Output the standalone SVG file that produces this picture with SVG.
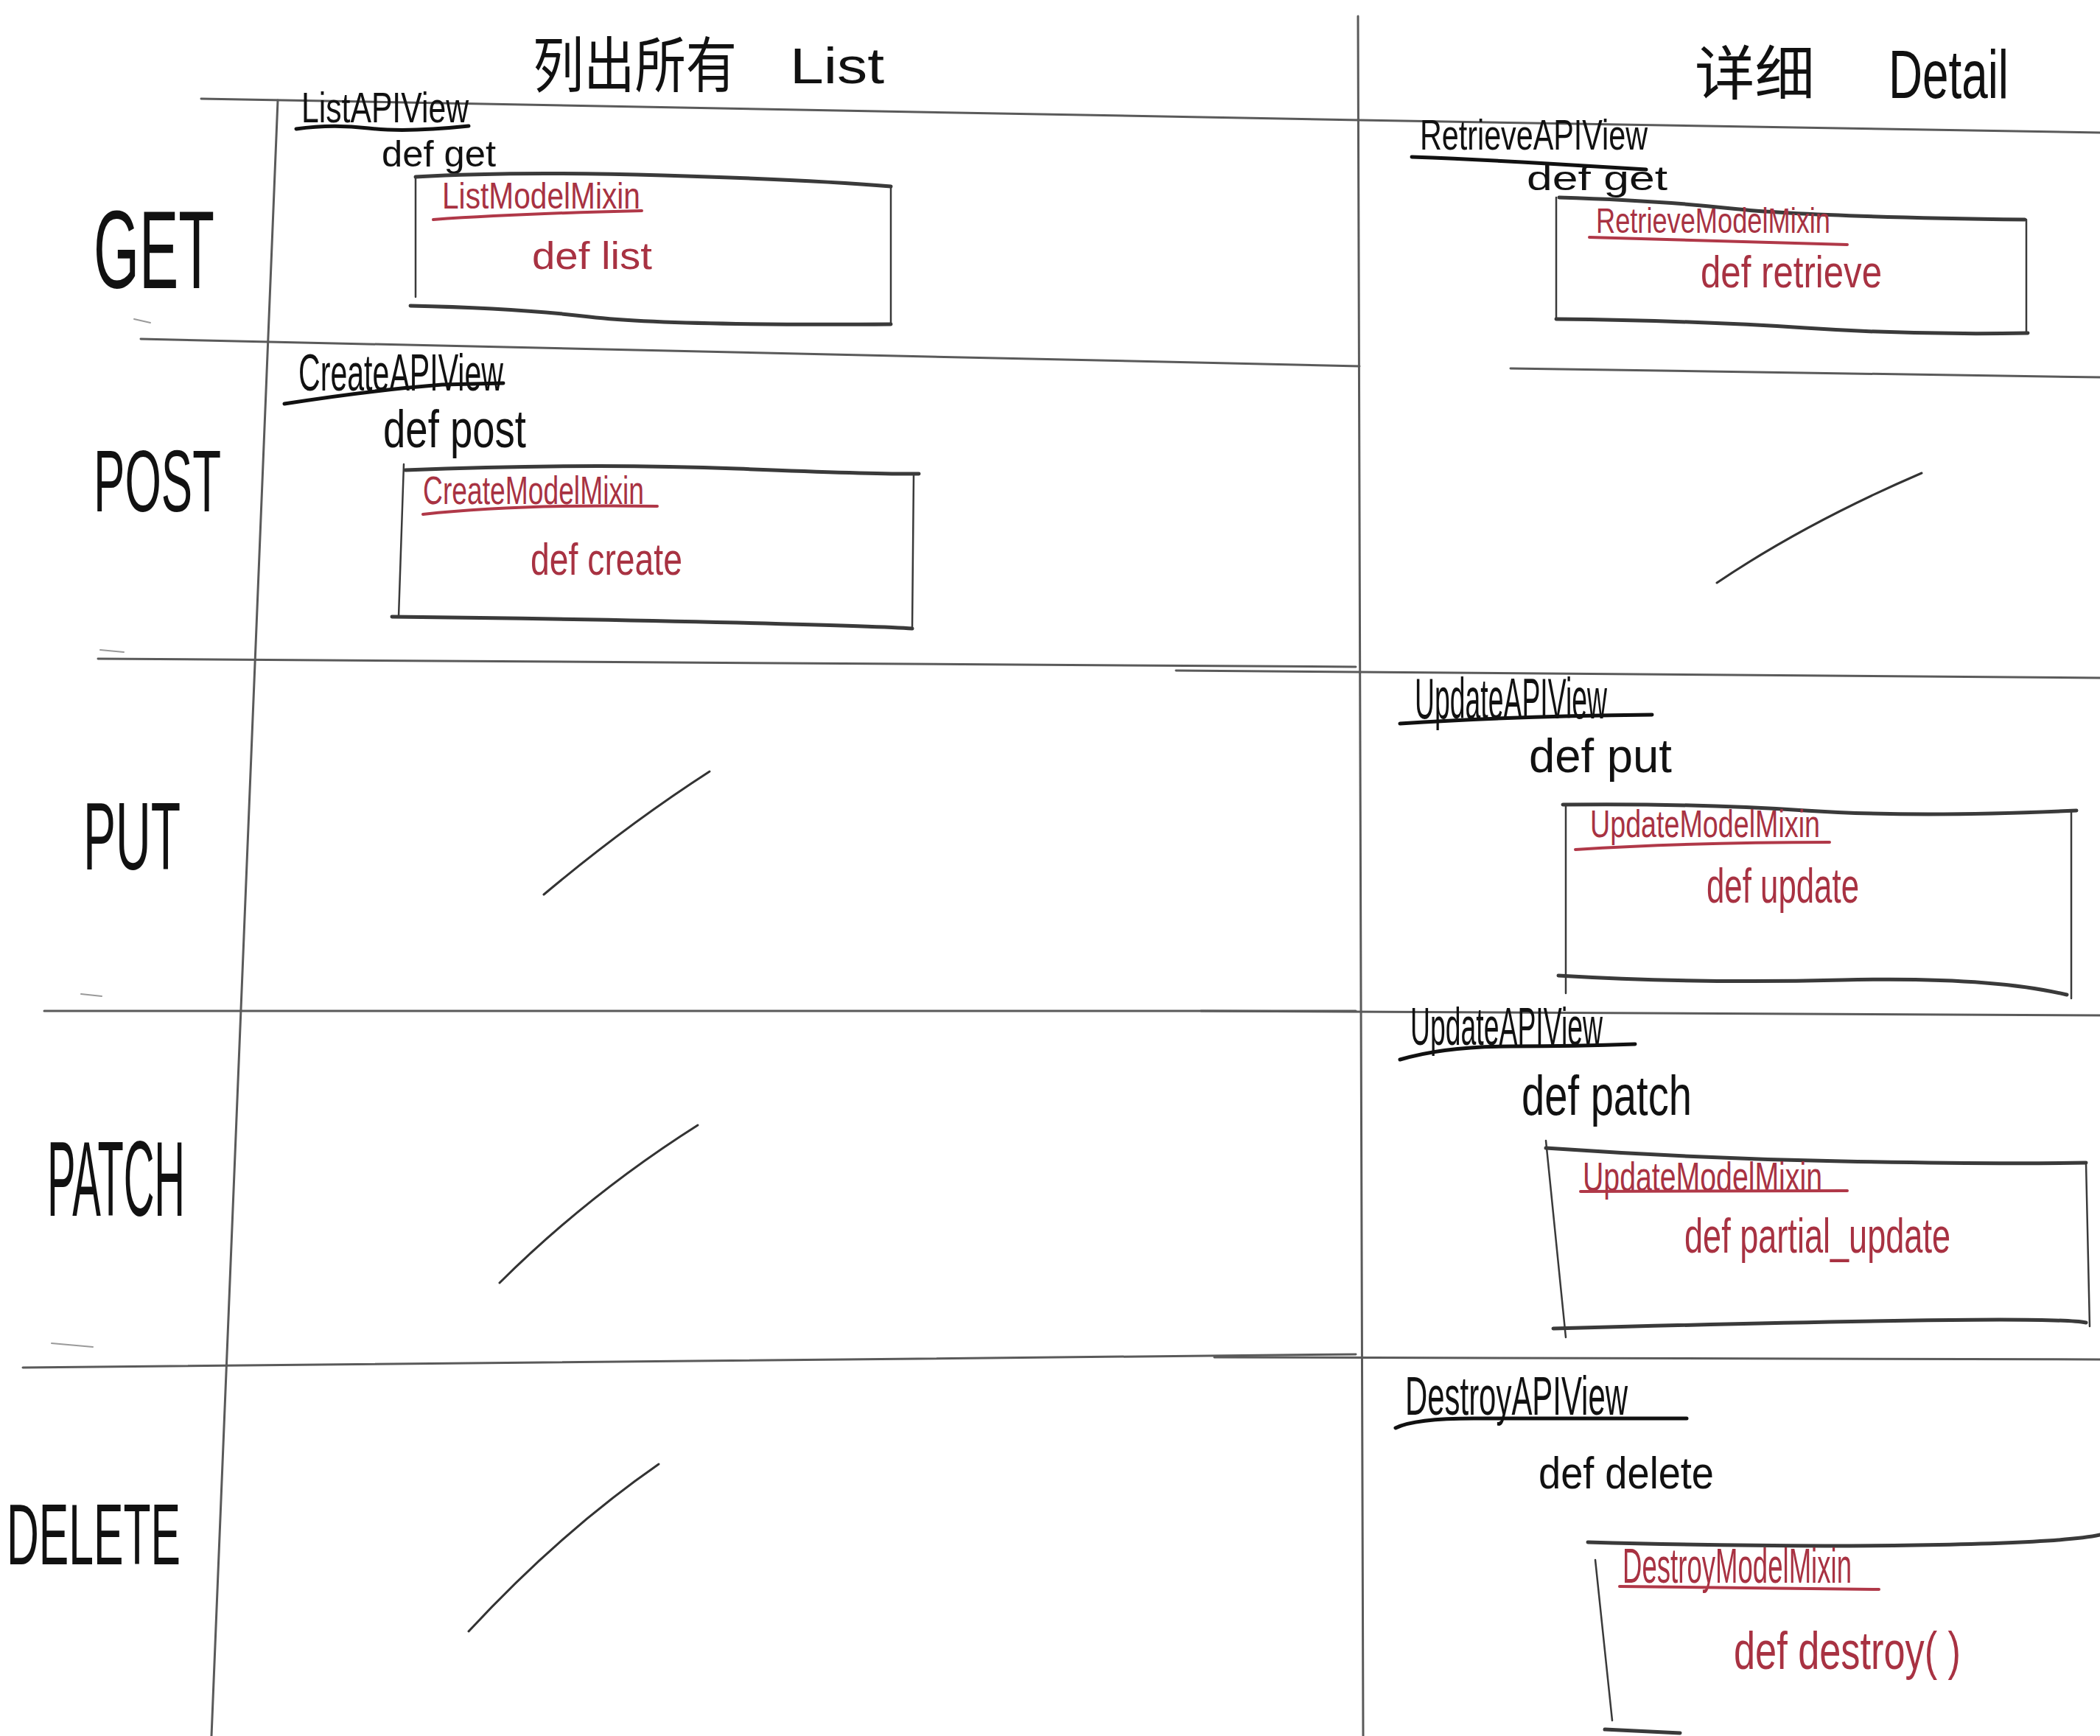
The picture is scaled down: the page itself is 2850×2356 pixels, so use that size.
<svg xmlns="http://www.w3.org/2000/svg" width="2850" height="2356" viewBox="0 0 2850 2356">
<style>
.bg{fill:#ffffff}
.grid{stroke:#5a5a5a;stroke-width:3;fill:none;stroke-linecap:round}
.faint{stroke:#9a9a9a;stroke-width:2;fill:none;stroke-linecap:round}
.box{stroke:#3a3a3a;stroke-width:5;fill:none;stroke-linecap:round;stroke-linejoin:round}
.side{stroke:#3a3a3a;stroke-width:2.5;fill:none;stroke-linecap:round}
.ul{stroke:#111;stroke-width:5;fill:none;stroke-linecap:round}
.ulr{stroke:#b03848;stroke-width:4;fill:none;stroke-linecap:round}
.slash{stroke:#333;stroke-width:3;fill:none;stroke-linecap:round}
.ink{font-family:"Liberation Sans","Noto Sans CJK SC",sans-serif;fill:#111}
.red{font-family:"Liberation Sans",sans-serif;fill:#a83242}
.cjk{font-family:"Noto Sans CJK SC","Liberation Sans",sans-serif;fill:#111}
</style>
<rect class="bg" x="0" y="0" width="2850" height="2356"/>

<g id="grid">
  <path class="grid" d="M273,134 L1845,163 L2850,180"/>
  <path class="grid" d="M191,460 L1845,497"/>
  <path class="grid" d="M2050,500 L2850,512"/>
  <path class="grid" d="M133,894 L1840,905"/>
  <path class="grid" d="M1596,910 L2850,920"/>
  <path class="grid" d="M60,1372 L1840,1372"/>
  <path class="grid" d="M1630,1372 L2850,1378"/>
  <path class="grid" d="M31,1856 L1840,1838"/>
  <path class="grid" d="M1648,1842 L2850,1845"/>
  <path class="grid" d="M377,136 L287,2356"/>
  <path class="grid" d="M1843,22 L1850,2356"/>
  <path class="faint" d="M182,433 L204,438"/>
  <path class="faint" d="M136,882 L168,885"/>
  <path class="faint" d="M110,1349 L138,1352"/>
  <path class="faint" d="M70,1823 L126,1828"/>
</g>

<g id="header-list">
  <text class="cjk" x="723" y="118" font-size="82" textLength="277" lengthAdjust="spacingAndGlyphs">列出所有</text>
  <text class="ink" x="1072" y="113" font-size="68" textLength="128" lengthAdjust="spacingAndGlyphs">List</text>
</g>
<g id="header-detail">
  <text class="cjk" x="2300" y="128" font-size="80" textLength="163" lengthAdjust="spacingAndGlyphs">详细</text>
  <text class="ink" x="2563" y="133" font-size="92" textLength="163" lengthAdjust="spacingAndGlyphs">Detail</text>
</g>

<g id="row-get"><text class="ink" x="127" y="391" font-size="150" textLength="164" lengthAdjust="spacingAndGlyphs">GET</text></g>
<g id="row-post"><text class="ink" x="127" y="694" font-size="118" textLength="173" lengthAdjust="spacingAndGlyphs">POST</text></g>
<g id="row-put"><text class="ink" x="113" y="1180" font-size="130" textLength="132" lengthAdjust="spacingAndGlyphs">PUT</text></g>
<g id="row-patch"><text class="ink" x="64" y="1650" font-size="145" textLength="187" lengthAdjust="spacingAndGlyphs">PATCH</text></g>
<g id="row-delete"><text class="ink" x="9" y="2123" font-size="117" textLength="236" lengthAdjust="spacingAndGlyphs">DELETE</text></g>

<g id="list-get">
  <text class="ink" x="409" y="166" font-size="58" textLength="227" lengthAdjust="spacingAndGlyphs">ListAPIView</text>
  <path class="ul" d="M402,175 Q450,168 500,174 T636,171"/>
  <text class="ink" x="518" y="226" font-size="50" textLength="155" lengthAdjust="spacingAndGlyphs">def get</text>
  <path class="box" d="M564,240 Q700,232 900,238 T1209,253"/>
  <path class="side" d="M564,240 L564,403"/>
  <path class="box" d="M557,415 Q700,418 800,430 T1209,440"/>
  <path class="side" d="M1209,253 L1209,440"/>
  <text class="red" x="600" y="283" font-size="50" textLength="269" lengthAdjust="spacingAndGlyphs">ListModelMixin</text>
  <path class="ulr" d="M588,298 Q700,290 871,286"/>
  <text class="red" x="722" y="365" font-size="52" textLength="163" lengthAdjust="spacingAndGlyphs">def list</text>
</g>

<g id="list-post">
  <text class="ink" x="405" y="530" font-size="70" textLength="278" lengthAdjust="spacingAndGlyphs">CreateAPIView</text>
  <path class="ul" d="M386,548 Q500,530 600,522 L683,520"/>
  <text class="ink" x="520" y="607" font-size="72" textLength="194" lengthAdjust="spacingAndGlyphs">def post</text>
  <path class="box" d="M550,638 Q800,628 1000,636 T1247,643"/>
  <path class="side" d="M548,630 L541,837"/>
  <path class="box" d="M532,837 Q800,840 1000,845 T1238,853"/>
  <path class="side" d="M1240,643 L1238,853"/>
  <text class="red" x="574" y="684" font-size="54" textLength="300" lengthAdjust="spacingAndGlyphs">CreateModelMixin</text>
  <path class="ulr" d="M574,698 Q700,684 892,687"/>
  <text class="red" x="720" y="780" font-size="62" textLength="206" lengthAdjust="spacingAndGlyphs">def create</text>
</g>

<g id="detail-get">
  <text class="ink" x="1927" y="203" font-size="58" textLength="309" lengthAdjust="spacingAndGlyphs">RetrieveAPIView</text>
  <path class="ul" d="M1916,213 Q2000,216 2100,222 T2234,230"/>
  <text class="ink" x="2072" y="258" font-size="46" textLength="191" lengthAdjust="spacingAndGlyphs">def get</text>
  <path class="box" d="M2116,268 Q2250,272 2350,283 T2748,298"/>
  <path class="side" d="M2112,268 L2112,433"/>
  <path class="box" d="M2112,433 Q2300,435 2450,445 T2752,452"/>
  <path class="side" d="M2750,298 L2750,452"/>
  <text class="red" x="2166" y="316" font-size="48" textLength="318" lengthAdjust="spacingAndGlyphs">RetrieveModelMixin</text>
  <path class="ulr" d="M2157,322 Q2300,326 2507,332"/>
  <text class="red" x="2308" y="390" font-size="62" textLength="246" lengthAdjust="spacingAndGlyphs">def retrieve</text>
</g>

<g id="detail-put">
  <text class="ink" x="1920" y="975" font-size="78" textLength="261" lengthAdjust="spacingAndGlyphs">UpdateAPIView</text>
  <path class="ul" d="M1900,982 Q2050,972 2242,970"/>
  <text class="ink" x="2075" y="1048" font-size="64" textLength="194" lengthAdjust="spacingAndGlyphs">def put</text>
  <path class="box" d="M2121,1092 Q2300,1090 2450,1100 T2818,1100"/>
  <path class="side" d="M2125,1092 L2125,1348"/>
  <path class="box" d="M2115,1324 Q2300,1335 2500,1330 T2805,1350"/>
  <path class="side" d="M2811,1100 L2811,1355"/>
  <text class="red" x="2158" y="1136" font-size="52" textLength="312" lengthAdjust="spacingAndGlyphs">UpdateModelMixin</text>
  <path class="ulr" d="M2138,1153 Q2300,1143 2483,1143"/>
  <text class="red" x="2316" y="1225" font-size="66" textLength="207" lengthAdjust="spacingAndGlyphs">def update</text>
</g>

<g id="detail-patch">
  <text class="ink" x="1914" y="1418" font-size="72" textLength="261" lengthAdjust="spacingAndGlyphs">UpdateAPIView</text>
  <path class="ul" d="M1900,1438 Q1960,1420 2050,1420 T2219,1417"/>
  <text class="ink" x="2065" y="1513" font-size="76" textLength="231" lengthAdjust="spacingAndGlyphs">def patch</text>
  <path class="box" d="M2098,1558 Q2300,1572 2500,1576 T2831,1578"/>
  <path class="side" d="M2098,1548 L2125,1815"/>
  <path class="box" d="M2108,1803 Q2400,1795 2600,1792 T2831,1795"/>
  <path class="side" d="M2831,1578 L2836,1800"/>
  <text class="red" x="2148" y="1616" font-size="56" textLength="325" lengthAdjust="spacingAndGlyphs">UpdateModelMixin</text>
  <path class="ulr" d="M2145,1617 L2507,1616"/>
  <text class="red" x="2286" y="1700" font-size="66" textLength="361" lengthAdjust="spacingAndGlyphs">def partial_update</text>
</g>

<g id="detail-delete">
  <text class="ink" x="1907" y="1920" font-size="74" textLength="302" lengthAdjust="spacingAndGlyphs">DestroyAPIView</text>
  <path class="ul" d="M1894,1938 Q1920,1925 2000,1925 L2289,1925"/>
  <text class="ink" x="2088" y="2020" font-size="62" textLength="238" lengthAdjust="spacingAndGlyphs">def delete</text>
  <path class="box" d="M2155,2093 Q2400,2100 2600,2097 T2850,2083"/>
  <path class="side" d="M2165,2117 L2188,2335"/>
  <path class="box" d="M2178,2347 L2280,2352"/>
  <text class="red" x="2202" y="2148" font-size="66" textLength="311" lengthAdjust="spacingAndGlyphs">DestroyModelMixin</text>
  <path class="ulr" d="M2198,2153 L2550,2157"/>
  <text class="red" x="2353" y="2265" font-size="72" textLength="308" lengthAdjust="spacingAndGlyphs">def destroy( )</text>
</g>

<g id="empty-marks">
  <path class="slash" d="M2330,791 Q2450,710 2608,642"/>
  <path class="slash" d="M738,1214 Q850,1120 963,1047"/>
  <path class="slash" d="M678,1741 Q800,1620 947,1527"/>
  <path class="slash" d="M636,2214 Q760,2080 894,1987"/>
</g>
</svg>
